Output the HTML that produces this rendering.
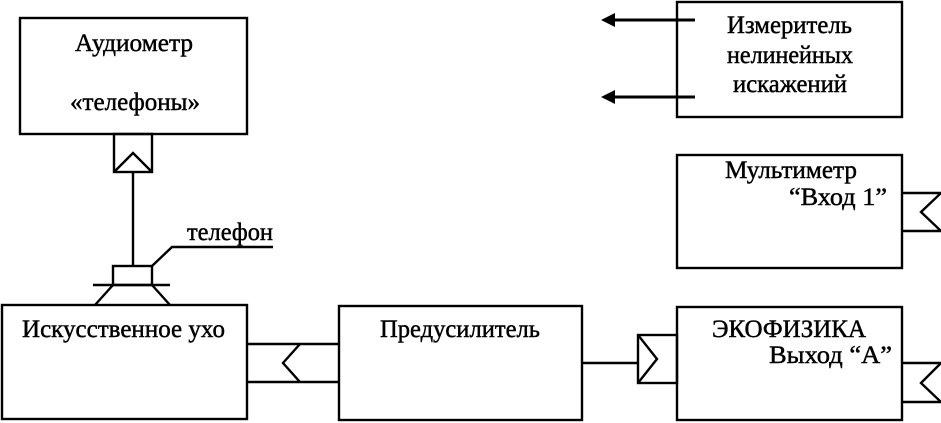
<!DOCTYPE html>
<html><head><meta charset="utf-8"><style>
html,body{margin:0;padding:0;background:#fff;}
svg{display:block;}
text{font-family:"Liberation Serif","Noto Serif CJK SC",serif;font-size:25px;fill:#000;stroke:#000;stroke-width:0.45px;}
</style></head><body>
<svg width="941" height="423" viewBox="0 0 941 423" xmlns="http://www.w3.org/2000/svg">
<g fill="none" stroke="#000" stroke-width="2.4">
  <!-- Audiometer -->
  <rect x="20" y="18" width="227" height="116"/>
  <rect x="114" y="134" width="38" height="38"/>
  <polyline points="114,172 133,153 152,172"/>
  <line x1="133" y1="172" x2="133" y2="266"/>
  <!-- phone -->
  <rect x="113" y="266" width="39" height="19"/>
  <line x1="93" y1="285" x2="170" y2="285"/>
  <line x1="113" y1="285" x2="95" y2="305"/>
  <line x1="152" y1="285" x2="170" y2="305"/>
  <polyline points="152,266 172,247 273,247"/>
  <!-- Artificial ear -->
  <rect x="2" y="305" width="245" height="114"/>
  <line x1="247" y1="344" x2="339" y2="344"/>
  <line x1="247" y1="382" x2="339" y2="382"/>
  <polyline points="300,344 283,363 300,382"/>
  <!-- Preamp -->
  <rect x="339" y="306" width="243" height="114"/>
  <line x1="582" y1="363" x2="638" y2="363"/>
  <rect x="638" y="335" width="39" height="48"/>
  <polyline points="638,335 657,359 638,383"/>
  <!-- EKOFIZIKA -->
  <rect x="677" y="307" width="225" height="113"/>
  <polyline points="902,363 941,363 921,383 941,402 902,402"/>
  <!-- Multimeter -->
  <rect x="677" y="155" width="225" height="113"/>
  <polyline points="902,193 941,193 921,212 941,231 902,231"/>
  <!-- Izmeritel -->
  <rect x="677" y="2" width="225" height="115"/>
</g>
<g stroke="#000" stroke-width="3">
  <line x1="612" y1="20" x2="695" y2="20"/>
  <line x1="612" y1="97" x2="695" y2="97"/>
</g>
<polygon points="601,20 615,13 615,27" fill="#000"/>
<polygon points="601,97 615,90 615,104" fill="#000"/>

<text x="75" y="51" textLength="118" lengthAdjust="spacingAndGlyphs">Аудиометр</text>
<text x="70" y="110" textLength="130" lengthAdjust="spacingAndGlyphs">«телефоны»</text>
<text x="187" y="240" textLength="86" lengthAdjust="spacingAndGlyphs">телефон</text>
<text x="727" y="33" textLength="125" lengthAdjust="spacingAndGlyphs">Измеритель</text>
<text x="727" y="63" textLength="126" lengthAdjust="spacingAndGlyphs">нелинейных</text>
<text x="733" y="92" textLength="114" lengthAdjust="spacingAndGlyphs">искажений</text>
<text x="725" y="178" textLength="132" lengthAdjust="spacingAndGlyphs">Мультиметр</text>
<text x="789" y="205" textLength="98" lengthAdjust="spacingAndGlyphs">“Вход 1”</text>
<text x="22" y="337" textLength="203" lengthAdjust="spacingAndGlyphs">Искусственное ухо</text>
<text x="380" y="337" textLength="160" lengthAdjust="spacingAndGlyphs">Предусилитель</text>
<text x="712" y="337" textLength="154" lengthAdjust="spacingAndGlyphs">ЭКОФИЗИКА</text>
<text x="769" y="363" textLength="123" lengthAdjust="spacingAndGlyphs">Выход “А”</text>
</svg>
</body></html>
